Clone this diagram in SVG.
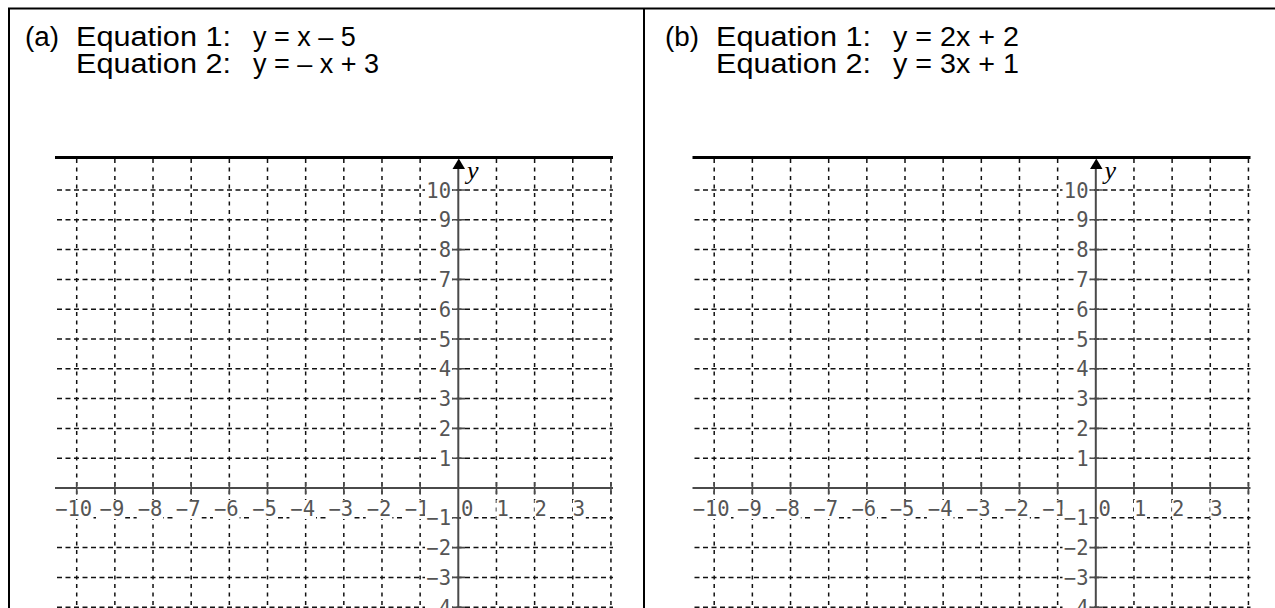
<svg xmlns="http://www.w3.org/2000/svg" xmlns:xlink="http://www.w3.org/1999/xlink" width="1275" height="608" viewBox="0 0 1275 608">
<style>
.frame{stroke:#000;stroke-width:2;fill:none}
.head{font-family:"Liberation Sans",Arial,sans-serif;font-size:27px;fill:#000}
.vgrid{stroke:#111;stroke-width:1.5;stroke-dasharray:4 4.5;fill:none}
.hgrid{stroke:#111;stroke-width:1.5;stroke-dasharray:5 3.5;fill:none}
.axis{stroke:#4a4a4a;stroke-width:2;fill:none}
.tick{stroke:#4a4a4a;stroke-width:1.6;fill:none}
.top{stroke:#000;stroke-width:3;fill:none}
.lbl{font-family:"DejaVu Sans Mono",monospace;font-size:20.5px;fill:#555}
.bg{fill:#fff}
.yl{font-family:"Liberation Serif",serif;font-style:italic;font-size:26px;fill:#000}
</style>
<rect width="1275" height="608" fill="#fff"/>
<g id="frame">
<path class="frame" d="M8 8.5H1275M9 8V608M644 8V608"/>
</g>
<g id="heading-a">
<text class="head" x="25" y="46" textLength="34" lengthAdjust="spacingAndGlyphs">(a)</text>
<text class="head" x="76" y="46" textLength="155" lengthAdjust="spacingAndGlyphs">Equation 1:</text>
<text class="head" x="253" y="46">y = x – 5</text>
<text class="head" x="76" y="73" textLength="155" lengthAdjust="spacingAndGlyphs">Equation 2:</text>
<text class="head" x="253" y="73">y = – x + 3</text>
</g>
<g id="heading-b">
<text class="head" x="665" y="46" textLength="34" lengthAdjust="spacingAndGlyphs">(b)</text>
<text class="head" x="716" y="46" textLength="155" lengthAdjust="spacingAndGlyphs">Equation 1:</text>
<text class="head" x="893" y="46" textLength="126" lengthAdjust="spacingAndGlyphs">y = 2x + 2</text>
<text class="head" x="716" y="73" textLength="155" lengthAdjust="spacingAndGlyphs">Equation 2:</text>
<text class="head" x="893" y="73" textLength="126" lengthAdjust="spacingAndGlyphs">y = 3x + 1</text>
</g>
<g id="graph-a">
<path class="vgrid" d="M76.7 159V608M114.86 159V608M153.02 159V608M191.18 159V608M229.34 159V608M267.5 159V608M305.66 159V608M343.82 159V608M381.98 159V608M420.14 159V608M496.46 159V608M534.62 159V608M572.78 159V608M610.94 159V608"/>
<path class="hgrid" d="M57 190H613M57 219.8H613M57 249.6H613M57 279.4H613M57 309.2H613M57 339H613M57 368.8H613M57 398.6H613M57 428.4H613M57 458.2H613M57 517.8H613M57 547.6H613M57 577.4H613M57 607.2H613"/>
<path class="axis" d="M458.3 166V608M55 488H613"/>
<path class="tick" d="M452 190H465M452 219.8H465M452 249.6H465M452 279.4H465M452 309.2H465M452 339H465M452 368.8H465M452 398.6H465M452 428.4H465M452 458.2H465M452 517.8H465M452 547.6H465M452 577.4H465M452 607.2H465M76.7 482V494M114.86 482V494M153.02 482V494M191.18 482V494M229.34 482V494M267.5 482V494M305.66 482V494M343.82 482V494M381.98 482V494M420.14 482V494M496.46 482V494M534.62 482V494M572.78 482V494M610.94 482V494"/>
<path class="top" d="M55 157.5H613"/>
<polygon points="452.5,169 465,169 458.8,158.5" fill="#000"/>
<text class="yl" x="467" y="179">y</text>
<g id="xlabels">
<rect class="bg" x="54.5" y="500" width="39" height="19"/>
<rect class="bg" x="98.6" y="500" width="26.6" height="19"/>
<rect class="bg" x="136.7" y="500" width="26.6" height="19"/>
<rect class="bg" x="174.9" y="500" width="26.6" height="19"/>
<rect class="bg" x="213" y="500" width="26.6" height="19"/>
<rect class="bg" x="251.2" y="500" width="26.6" height="19"/>
<rect class="bg" x="289.4" y="500" width="26.6" height="19"/>
<rect class="bg" x="327.5" y="500" width="26.6" height="19"/>
<rect class="bg" x="365.7" y="500" width="26.6" height="19"/>
<rect class="bg" x="403.8" y="500" width="26.6" height="19"/>
<rect class="bg" x="461" y="500" width="13" height="19"/>
<rect class="bg" x="496.5" y="500" width="13" height="19"/>
<rect class="bg" x="534.6" y="500" width="13" height="19"/>
<rect class="bg" x="572.8" y="500" width="13" height="19"/>
<text class="lbl" x="73.7" y="516" text-anchor="middle">−10</text>
<text class="lbl" x="111.9" y="516" text-anchor="middle">−9</text>
<text class="lbl" x="150" y="516" text-anchor="middle">−8</text>
<text class="lbl" x="188.2" y="516" text-anchor="middle">−7</text>
<text class="lbl" x="226.3" y="516" text-anchor="middle">−6</text>
<text class="lbl" x="264.5" y="516" text-anchor="middle">−5</text>
<text class="lbl" x="302.7" y="516" text-anchor="middle">−4</text>
<text class="lbl" x="340.8" y="516" text-anchor="middle">−3</text>
<text class="lbl" x="379" y="516" text-anchor="middle">−2</text>
<text class="lbl" x="417.1" y="516" text-anchor="middle">−1</text>
<text class="lbl" x="461" y="516">0</text>
<text class="lbl" x="496.5" y="516">1</text>
<text class="lbl" x="534.6" y="516">2</text>
<text class="lbl" x="572.8" y="516">3</text>
</g>
<g id="ylabels">
<rect class="bg" x="425" y="181.5" width="27" height="17"/>
<rect class="bg" x="438" y="211.3" width="14" height="17"/>
<rect class="bg" x="438" y="241.1" width="14" height="17"/>
<rect class="bg" x="438" y="270.9" width="14" height="17"/>
<rect class="bg" x="438" y="300.7" width="14" height="17"/>
<rect class="bg" x="438" y="330.5" width="14" height="17"/>
<rect class="bg" x="438" y="360.3" width="14" height="17"/>
<rect class="bg" x="438" y="390.1" width="14" height="17"/>
<rect class="bg" x="438" y="419.9" width="14" height="17"/>
<rect class="bg" x="438" y="449.7" width="14" height="17"/>
<rect class="bg" x="425" y="509.3" width="27" height="17"/>
<rect class="bg" x="425" y="539.1" width="27" height="17"/>
<rect class="bg" x="425" y="568.9" width="27" height="17"/>
<rect class="bg" x="425" y="598.7" width="27" height="17"/>
<text class="lbl" x="451" y="197.5" text-anchor="end">10</text>
<text class="lbl" x="451" y="227.3" text-anchor="end">9</text>
<text class="lbl" x="451" y="257.1" text-anchor="end">8</text>
<text class="lbl" x="451" y="286.9" text-anchor="end">7</text>
<text class="lbl" x="451" y="316.7" text-anchor="end">6</text>
<text class="lbl" x="451" y="346.5" text-anchor="end">5</text>
<text class="lbl" x="451" y="376.3" text-anchor="end">4</text>
<text class="lbl" x="451" y="406.1" text-anchor="end">3</text>
<text class="lbl" x="451" y="435.9" text-anchor="end">2</text>
<text class="lbl" x="451" y="465.7" text-anchor="end">1</text>
<text class="lbl" x="451" y="525.3" text-anchor="end">−1</text>
<text class="lbl" x="451" y="555.1" text-anchor="end">−2</text>
<text class="lbl" x="451" y="584.9" text-anchor="end">−3</text>
<text class="lbl" x="451" y="614.7" text-anchor="end">−4</text>
</g>
</g>
<use id="graph-b" xlink:href="#graph-a" href="#graph-a" transform="translate(637.5 0)"/>
</svg>
